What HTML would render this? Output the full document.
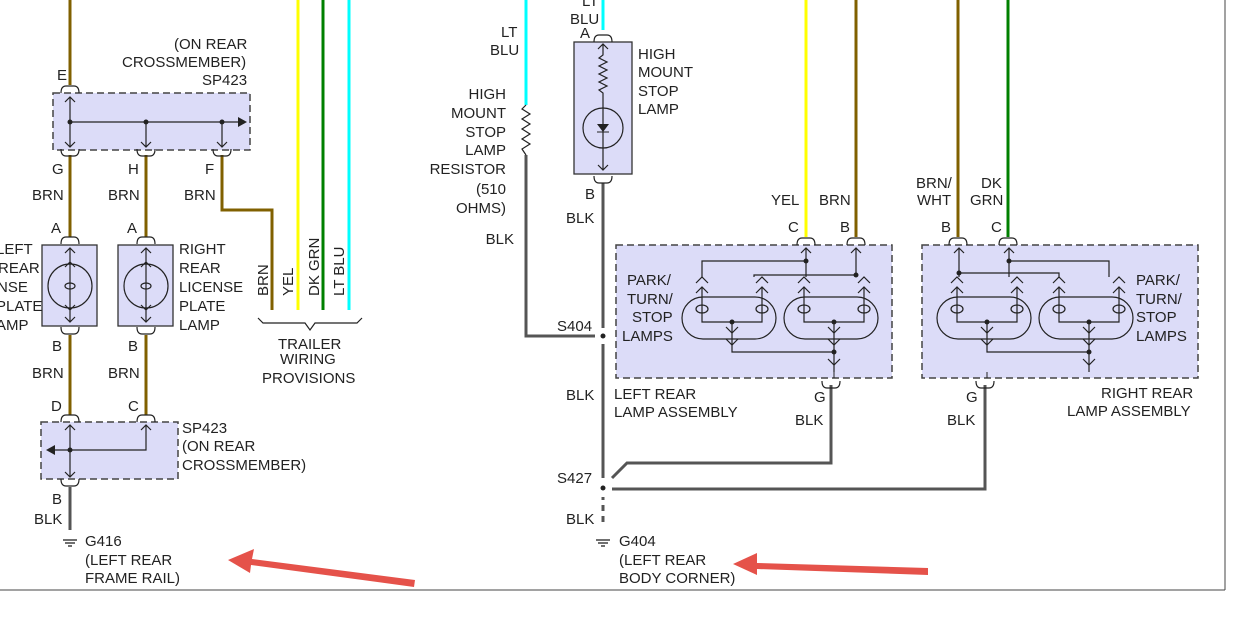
<!DOCTYPE html>
<html><head><style>body{margin:0;background:#fff}svg{display:block}text{font-family:"Liberation Sans",sans-serif;font-size:15px;fill:#222}</style></head><body>
<svg width="1252" height="620" viewBox="0 0 1252 620">
<defs>
<g id="cupd"><path d="M-9,-4 Q-9,3 -4,3 L4,3 Q9,3 9,-4" fill="none" stroke="#222" stroke-width="1.2"/></g>
<g id="cup"><path d="M-9,4 Q-9,-3 -4,-3 L4,-3 Q9,-3 9,4" fill="none" stroke="#222" stroke-width="1.2"/></g>
<g id="lamps">
<g fill="none" stroke="#222" stroke-width="1.2">
<rect x="0" y="0" width="94" height="42" rx="21"/><rect x="102" y="0" width="94" height="42" rx="21"/>
<path d="M20,-10 V25 H80 V-10 M122,-10 V25 H182 V-10 M50,25 V35 M152,25 V35 M50,35 V55 H152 M152,35 V75"/>
<path d="M14,-4 L20,-10 L26,-4 M74,-4 L80,-10 L86,-4 M116,-4 L122,-10 L128,-4 M176,-4 L182,-10 L188,-4"/>
<path d="M14,-14 L20,-20 L26,-14 M74,-14 L80,-20 L86,-14 M116,-14 L122,-20 L128,-14 M176,-14 L182,-20 L188,-14"/>
<path d="M44,30 L50,36 L56,30 M146,30 L152,36 L158,30 M44,42 L50,48 L56,42 M146,42 L152,48 L158,42 M146,62 L152,68 L158,62"/>
<ellipse cx="20" cy="12" rx="6" ry="4"/><ellipse cx="80" cy="12" rx="6" ry="4"/><ellipse cx="122" cy="12" rx="6" ry="4"/><ellipse cx="182" cy="12" rx="6" ry="4"/>
</g>
<circle cx="50" cy="25" r="2.5" fill="#222"/><circle cx="152" cy="25" r="2.5" fill="#222"/><circle cx="152" cy="55" r="2.5" fill="#222"/>
</g>
<g id="gnd" stroke="#222" stroke-width="1.3"><line x1="-7" y1="0" x2="7" y2="0"/><line x1="-5" y1="3" x2="5" y2="3"/><line x1="-2" y1="6" x2="2" y2="6"/></g>
</defs>
<line x1="1225" y1="0" x2="1225" y2="590" stroke="#444"/><line x1="0" y1="590" x2="1225" y2="590" stroke="#444"/>
<g stroke-width="3" fill="none">
<path d="M70,0 V85 M70,155 V237 M146,155 V237 M70,335 V415 M146,335 V415 M222,155 V210 H272 V310" stroke="#806000"/>
<path d="M70,487 V530" stroke="#555"/>
<line x1="298" y1="0" x2="298" y2="310" stroke="#ffff00"/>
<line x1="323" y1="0" x2="323" y2="310" stroke="#008000"/>
<line x1="349" y1="0" x2="349" y2="310" stroke="#00ffff"/>
<path d="M526,0 V105 M603,0 V30" stroke="#00ffff"/>
<path d="M526,155 V336 H595 M603,183 V328 M603,344 V478 M603,497 V500" stroke="#555"/>
<path d="M603,505 V525" stroke="#555" stroke-dasharray="6,5"/>
<path d="M831,385 V463 H627 L612,478 M985,385 V489 H612" stroke="#555"/>
<path d="M806,0 V237" stroke="#ffff00"/><path d="M856,0 V237" stroke="#806000"/>
<path d="M958,0 V237" stroke="#806000"/><path d="M1008,0 V237" stroke="#008000"/>
</g>
<path d="M526,105 l-4,4 8,5 -8,5 8,5 -8,5 8,5 -8,5 8,5 -8,5 4,6" fill="none" stroke="#222" stroke-width="1.2"/>
<circle cx="603" cy="336" r="2.5" fill="#222"/><circle cx="603" cy="488" r="2.5" fill="#222"/>
<rect x="53" y="93" width="197" height="57" fill="#dcdcf8" stroke="#444" stroke-dasharray="7,4" stroke-width="1.5"/>
<g stroke="#222" fill="none" stroke-width="1.2"><path d="M70,97 V147 M70,122 H240 M146,122 V147 M222,122 V147 M65,102 L70,97 75,102 M65,142 L70,147 75,142 M141,142 L146,147 151,142 M217,142 L222,147 227,142"/></g>
<path d="M238,117 L247,122 238,127Z" fill="#222"/>
<circle cx="70" cy="122" r="2.5" fill="#222"/><circle cx="146" cy="122" r="2.5" fill="#222"/><circle cx="222" cy="122" r="2.5" fill="#222"/>
<use href="#cup" x="70" y="89"/><use href="#cupd" x="70" y="153"/><use href="#cupd" x="146" y="153"/><use href="#cupd" x="222" y="153"/>
<g stroke="#333" stroke-width="1.3">
<rect x="42" y="245" width="55" height="81" fill="#dcdcf8"/><rect x="118" y="245" width="55" height="81" fill="#dcdcf8"/>
</g>
<g fill="none" stroke="#222" stroke-width="1.2">
<circle cx="70" cy="286" r="22"/><circle cx="146" cy="286" r="22"/>
<path d="M70,248 V322 M146,248 V322 M65,253 L70,248 75,253 M65,267 L70,262 75,267 M65,305 L70,310 75,305 M65,317 L70,322 75,317 M141,253 L146,248 151,253 M141,267 L146,262 151,267 M141,305 L146,310 151,305 M141,317 L146,322 151,317"/>
<ellipse cx="70" cy="286" rx="5" ry="3"/><ellipse cx="146" cy="286" rx="5" ry="3"/>
</g>
<use href="#cup" x="70" y="240"/><use href="#cup" x="146" y="240"/><use href="#cupd" x="70" y="331"/><use href="#cupd" x="146" y="331"/>
<rect x="41" y="422" width="137" height="57" fill="#dcdcf8" stroke="#444" stroke-dasharray="7,4" stroke-width="1.5"/>
<g stroke="#222" fill="none" stroke-width="1.2"><path d="M70,425 V477 M55,450 H146 V425 M65,430 L70,425 75,430 M141,430 L146,425 151,430 M65,472 L70,477 75,472"/></g>
<path d="M55,445 L46,450 55,455Z" fill="#222"/><circle cx="70" cy="450" r="2.5" fill="#222"/>
<use href="#cup" x="70" y="418"/><use href="#cup" x="146" y="418"/><use href="#cupd" x="70" y="483"/>
<use href="#gnd" x="70" y="540"/><use href="#gnd" x="603" y="540"/>
<path d="M258,318 L263,323 H305 L310,330 L315,323 H357 L362,318" fill="none" stroke="#222" stroke-width="1.2"/>
<rect x="574" y="42" width="58" height="132" fill="#dcdcf8" stroke="#333" stroke-width="1.3"/>
<g fill="none" stroke="#222" stroke-width="1.2"><path d="M603,44 V55 l-4,3 8,4 -8,4 8,4 -8,4 8,4 -8,4 8,4 -8,4 4,3 V170 M598,49 L603,44 608,49 M598,165 L603,170 608,165"/><circle cx="603" cy="128" r="20"/></g>
<path d="M597,124 H609 L603,132Z" fill="#222"/><line x1="597" y1="132" x2="609" y2="132" stroke="#222"/>
<use href="#cup" x="603" y="38"/><use href="#cupd" x="603" y="180"/>
<rect x="616" y="245" width="276" height="133" fill="#dcdcf8" stroke="#444" stroke-dasharray="7,4" stroke-width="1.5"/>
<rect x="922" y="245" width="276" height="133" fill="#dcdcf8" stroke="#444" stroke-dasharray="7,4" stroke-width="1.5"/>
<use href="#lamps" x="682" y="297"/>
<use href="#lamps" x="937" y="297"/>
<g fill="none" stroke="#222" stroke-width="1.2">
<path d="M702,277 V261 H806 V277 M754,277 V275 H856 V277 M806,248 V277 M856,248 V277 M801,253 L806,248 811,253 M851,253 L856,248 861,253"/>
<path d="M959,277 V248 M959,273 H1059 V277 M1009,248 V277 M1009,261 H1109 V277 M954,253 L959,248 964,253 M1004,253 L1009,248 1014,253"/>
</g>
<circle cx="806" cy="261" r="2.5" fill="#222"/><circle cx="856" cy="275" r="2.5" fill="#222"/><circle cx="959" cy="273" r="2.5" fill="#222"/><circle cx="1009" cy="261" r="2.5" fill="#222"/>
<path d="M834,372 V378 M987,372 V378" stroke="#222"/>
<use href="#cup" x="806" y="241"/><use href="#cup" x="856" y="241"/><use href="#cup" x="958" y="241"/><use href="#cup" x="1008" y="241"/>
<use href="#cupd" x="831" y="385"/><use href="#cupd" x="985" y="385"/>
<g fill="#e5524a"><path d="M415,580 L252,559 L254,549 L228,560 L250,573 L251,565 L414,587Z"/><path d="M928,568 L757,563 L757,553 L733,564 L757,575 L757,569 L928,575Z"/></g>
<g>
<text x="57" y="80">E</text><text x="174" y="49">(ON REAR</text><text x="122" y="67">CROSSMEMBER)</text><text x="202" y="85">SP423</text>
<text x="52" y="174">G</text><text x="128" y="174">H</text><text x="205" y="174">F</text>
<text x="32" y="200">BRN</text><text x="108" y="200">BRN</text><text x="184" y="200">BRN</text>
<text x="51" y="233">A</text><text x="127" y="233">A</text>
<text x="-4" y="254">LEFT</text><text x="-2" y="273">REAR</text><text x="-3" y="292">NSE</text><text x="-4" y="311">PLATE</text><text x="-4" y="330">AMP</text>
<text x="179" y="254">RIGHT</text><text x="179" y="273">REAR</text><text x="179" y="292">LICENSE</text><text x="179" y="311">PLATE</text><text x="179" y="330">LAMP</text>
<text x="52" y="351">B</text><text x="128" y="351">B</text><text x="32" y="378">BRN</text><text x="108" y="378">BRN</text>
<text x="51" y="411">D</text><text x="128" y="411">C</text>
<text x="182" y="433">SP423</text><text x="182" y="451">(ON REAR</text><text x="182" y="470">CROSSMEMBER)</text>
<text x="52" y="504">B</text><text x="34" y="524">BLK</text>
<text x="85" y="546">G416</text><text x="85" y="565">(LEFT REAR</text><text x="85" y="583">FRAME RAIL)</text>
<text transform="translate(268,296) rotate(-90)">BRN</text><text transform="translate(293,296) rotate(-90)">YEL</text><text transform="translate(319,296) rotate(-90)">DK GRN</text><text transform="translate(344,296) rotate(-90)">LT BLU</text>
<text x="278" y="349">TRAILER</text><text x="280" y="364">WIRING</text><text x="262" y="383">PROVISIONS</text>
<text x="501" y="37">LT</text><text x="490" y="55">BLU</text><text x="582" y="6">LT</text><text x="570" y="24">BLU</text><text x="580" y="38">A</text>
<g text-anchor="end"><text x="506" y="99">HIGH</text><text x="506" y="118">MOUNT</text><text x="506" y="137">STOP</text><text x="506" y="155">LAMP</text><text x="506" y="174">RESISTOR</text><text x="506" y="194">(510</text><text x="506" y="213">OHMS)</text><text x="514" y="244">BLK</text></g>
<text x="638" y="59">HIGH</text><text x="638" y="77">MOUNT</text><text x="638" y="96">STOP</text><text x="638" y="114">LAMP</text>
<text x="585" y="199">B</text><text x="566" y="223">BLK</text>
<text x="557" y="331">S404</text><text x="566" y="400">BLK</text><text x="557" y="483">S427</text><text x="566" y="524">BLK</text>
<text x="619" y="546">G404</text><text x="619" y="565">(LEFT REAR</text><text x="619" y="583">BODY CORNER)</text>
<text x="771" y="205">YEL</text><text x="819" y="205">BRN</text><text x="788" y="232">C</text><text x="840" y="232">B</text>
<text x="916" y="188">BRN/</text><text x="917" y="205">WHT</text><text x="981" y="188">DK</text><text x="970" y="205">GRN</text>
<text x="941" y="232">B</text><text x="991" y="232">C</text>
<text x="627" y="285">PARK/</text><text x="627" y="304">TURN/</text><text x="632" y="322">STOP</text><text x="622" y="341">LAMPS</text>
<text x="1136" y="285">PARK/</text><text x="1136" y="304">TURN/</text><text x="1136" y="322">STOP</text><text x="1136" y="341">LAMPS</text>
<text x="614" y="399">LEFT REAR</text><text x="614" y="417">LAMP ASSEMBLY</text>
<text x="1101" y="398">RIGHT REAR</text><text x="1067" y="416">LAMP ASSEMBLY</text>
<text x="814" y="402">G</text><text x="795" y="425">BLK</text><text x="966" y="402">G</text><text x="947" y="425">BLK</text>
</g>
</svg>
</body></html>
